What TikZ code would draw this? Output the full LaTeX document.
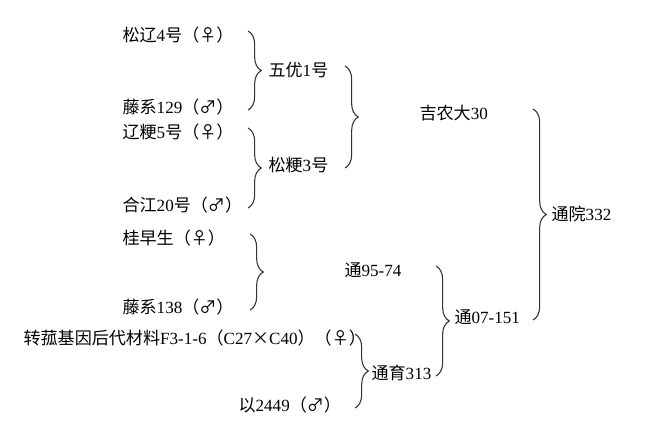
\documentclass[tikz,border=0pt]{standalone}
\usepackage{fontspec}
\setmainfont{Noto Sans CJK SC}
\newfontfamily\lat{Liberation Serif}
\usetikzlibrary{decorations.pathreplacing,calc}

\tikzset{
  parents/.style={decorate, decoration={brace, amplitude=10pt}, line width=0.8pt, black!80},
  line/.style={anchor=west, inner sep=1pt, font=\fontsize{12.8}{15}\selectfont}
}

\begin{document}
\begin{tikzpicture}[x=0.75pt, y=-0.75pt]
   \useasboundingbox (0,0) rectangle (654,432);

   \foreach \x/\y/\t/\s in {121/35/sl/{松辽{\lat 4}号（♀）}, 121/107/tx/{藤系{\lat 129}（♂）},
       121/132/lj/{辽粳{\lat 5}号（♀）}, 121/205/hj/{合江{\lat 20}号（♂）},
       121/238/gz/{桂早生（♀）}, 121/307/ts/{藤系{\lat 138}（♂）},
       22/338/zj/{转菰基因后代材料{\lat F3-1-6}（{\lat C27}×{\lat C40}）（♀）},
       237/405/yi/{以{\lat 2449}（♂）},
       267/70/wy/{五优{\lat 1}号}, 267/165/sj/{松粳{\lat 3}号},
       418/113/jn/{吉农大{\lat 30}}, 343/270/ta/{通{\lat 95-74}},
       453/317/tb/{通{\lat 07-151}}, 370/373/ty/{通育{\lat 313}},
       550/214/tc/{通院{\lat 332}}}
     \node [line] (v\t) at (\x,\y) {\s};

    \foreach \i/\j/\k in {sl/tx/248, lj/hj/248, wy/sj/345, gz/ts/250, ta/ty/436, jn/tb/533, zj/yi/355}
        \draw [parents] ($(\k,0 |- v\i)+(0,-4)$) -- ($(\k,0 |- v\j)+(0,3)$);

\end{tikzpicture}
\end{document}
